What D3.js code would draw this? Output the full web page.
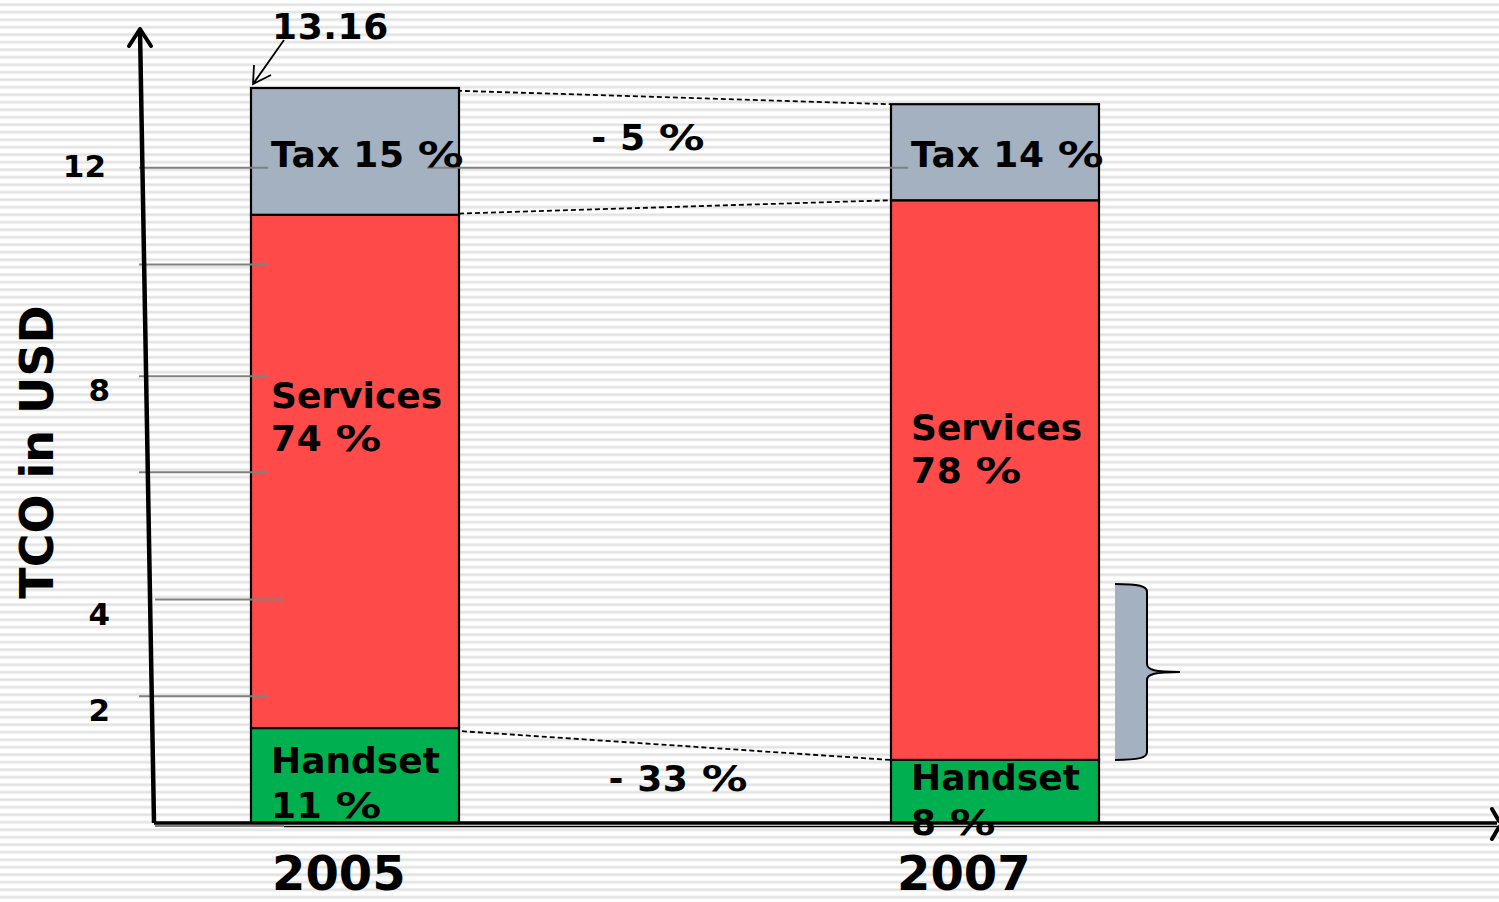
<!DOCTYPE html>
<html>
<head>
<meta charset="utf-8">
<script src="https://cdn.jsdelivr.net/npm/d3@7"></script>
<style>
  html, body { margin: 0; padding: 0; background: #fff; overflow: hidden; }
  svg { display: block; }
</style>
</head>
<body>
<script>
const width = 1499, height = 902
const POLICE = '"DejaVu Sans", Verdana, sans-serif'

// donnees
const years = ['2005', '2007']
const handset = [1.70, 1.13]
const services = [9.19, 10.02]
const tax = [2.27, 1.72]
const handsetPct = ['11 %', '8 %']
const servicesPct = ['74 %', '78 %']
const taxPct = ['15 %', '14 %']
const changes = ['- 5 %', '- 33 %']
const totalLabel = '13.16'
const yTicks = [11.73, 10, 8, 6.28, 4, 2.27]
const yTickText = ['12', '', '8', '', '4', '2']
const braceRange = [1.13, 4.28]

const COULEURS = { Handset: '#00b050', Services: '#ff4a4a', Tax: '#a3b1c0' }

const svg = d3.select('body').append('svg').attr('width', width).attr('height', height)

//Fond avec les lignes horizontales
const defs = svg.append('defs')
const pat = defs.append('pattern').attr('id', 'rayures').attr('patternUnits', 'userSpaceOnUse')
  .attr('width', 10).attr('height', 7.5).attr('y', 3)
pat.append('rect').attr('width', 10).attr('height', 7.5).attr('fill', '#ffffff')
pat.append('rect').attr('y', 0).attr('width', 10).attr('height', 3.5).attr('fill', '#f1f1f1')
pat.append('rect').attr('y', 0.8).attr('width', 10).attr('height', 1.8).attr('fill', '#e2e2e2')
svg.append('rect').attr('width', width).attr('height', height).attr('fill', 'url(#rayures)')

//Echelles
const y = d3.scaleLinear().domain([0, 13.16]).range([823, 88])
const x = d3.scaleBand().domain(years).range([251, 1099]).paddingInner(0.675).paddingOuter(0)
const bw = x.bandwidth()

//Texte gras ; le signe % est plus large dans la police d'origine, on l'etire
function texteGras(g, str, xx, yy, size, anchor) {
  const grp = g.append('g')
  if (!str.includes('%')) {
    grp.append('text').attr('x', xx).attr('y', yy).attr('font-family', POLICE)
      .attr('font-weight', 'bold').attr('font-size', size).attr('text-anchor', anchor || 'start').text(str)
    return grp
  }
  const avant = str.split('%')[0]
  const t1 = grp.append('text').attr('font-family', POLICE).attr('font-weight', 'bold')
    .attr('font-size', size).attr('letter-spacing', 0.6).attr('xml:space', 'preserve').text(avant)
  const w1 = t1.node().getComputedTextLength()
  const t2 = grp.append('text').attr('font-family', POLICE).attr('font-weight', 'bold')
    .attr('font-size', size).text('%')
  const w2 = t2.node().getComputedTextLength() * 1.27
  t2.attr('transform', `translate(${w1},0) scale(1.27,1)`)
  const total = w1 + w2
  const x0 = anchor === 'middle' ? xx - total / 2 : xx
  grp.attr('transform', `translate(${x0},${yy})`)
  return grp
}

//Empilement
const rows = years.map((yr, i) => ({ year: yr, Handset: handset[i], Services: services[i], Tax: tax[i] }))
const stack = d3.stack().keys(['Handset', 'Services', 'Tax'])(rows)

//Lignes pointillees entre les barres
const bounds = stack.map(s => s.map(d => d[1]))
const debut = [x('2005') + bw + 1 - 30, x('2005') + bw - 72, x('2005') + bw - 58]
const gDash = svg.append('g')
;[0, 1, 2].forEach(k => {
  gDash.append('line')
    .attr('x1', debut[k]).attr('y1', y(bounds[k][0]) + 1)
    .attr('x2', x('2007') - 1).attr('y2', y(bounds[k][1]))
    .attr('stroke', 'black').attr('stroke-width', 1.8).attr('stroke-dasharray', '5,3')
})

//Barres
stack.forEach(s => {
  svg.append('g').selectAll('rect').data(s).join('rect')
    .attr('x', d => x(d.data.year)).attr('width', bw)
    .attr('y', d => y(d[1])).attr('height', d => y(d[0]) - y(d[1]))
    .attr('fill', COULEURS[s.key]).attr('stroke', 'black').attr('stroke-width', 2.2)
})

//Petits traits de grille (gris)
const gGrid = svg.append('g').attr('stroke', '#808080').attr('stroke-width', 2)
yTicks.forEach((t, i) => {
  const dx = t === 4 ? 16 : 0
  gGrid.append('line').attr('x1', 139 + dx).attr('x2', 268 + dx).attr('y1', y(t)).attr('y2', y(t))
  if (i === 0) {
    gGrid.append('line').attr('x1', 427).attr('x2', 908).attr('y1', y(t)).attr('y2', y(t))
  }
})
gGrid.append('line').attr('x1', 155).attr('x2', 284).attr('y1', y(0) + 3).attr('y2', y(0) + 3)

//Axes
svg.append('line').attr('x1', 284).attr('x2', 1497).attr('y1', y(0) + 3.5).attr('y2', y(0) + 3.5)
  .attr('stroke', 'black').attr('stroke-width', 1.5)
svg.append('line').attr('x1', 154).attr('x2', 1497).attr('y1', y(0)).attr('y2', y(0))
  .attr('stroke', 'black').attr('stroke-width', 3.5)
svg.append('path').attr('d', 'M1492,809 L1499,821 M1499,827 L1492,839')
  .attr('stroke', 'black').attr('stroke-width', 4).attr('stroke-linecap', 'round').attr('fill', 'none')
svg.append('line').attr('x1', 154).attr('y1', y(0)).attr('x2', 140).attr('y2', 30)
  .attr('stroke', 'black').attr('stroke-width', 4.5)
svg.append('path').attr('d', 'M129,46 L140,29 L151,46')
  .attr('stroke', 'black').attr('stroke-width', 4).attr('stroke-linecap', 'round')
  .attr('stroke-linejoin', 'round').attr('fill', 'none')

//Etiquettes de l'axe y
svg.append('g').selectAll('text').data(yTicks.filter((t, i) => yTickText[i] !== '')).join('text')
  .attr('x', d => d === yTicks[0] ? 106 : 110)
  .attr('y', d => y(d) + (d === yTicks[0] ? 9 : 25))
  .attr('text-anchor', 'end').attr('font-family', POLICE).attr('font-weight', 'bold')
  .attr('font-size', 31).text(d => yTickText[yTicks.indexOf(d)])

svg.append('text').attr('transform', 'translate(53,452) rotate(-90)')
  .attr('text-anchor', 'middle').attr('font-family', POLICE).attr('font-weight', 'bold')
  .attr('font-size', 46).text('TCO in USD')

//Etiquettes des segments
const labelDy = {
  '2005': { Tax: [79], Services: [193, 236], Handset: [45, 90] },
  '2007': { Tax: [63], Services: [240, 283], Handset: [30, 75] }
}
const textes = { Tax: taxPct, Services: servicesPct, Handset: handsetPct }
stack.forEach(s => {
  s.forEach((d, i) => {
    const yr = d.data.year
    const top = y(d[1])
    const lignes = s.key === 'Tax' ? ['Tax ' + textes.Tax[i]] : [s.key, textes[s.key][i]]
    lignes.forEach((l, j) => {
      texteGras(svg, l, x(yr) + 20, top + labelDy[yr][s.key][j], 36)
    })
  })
})

//Annees
const yearDx = { '2005': 21, '2007': 6 }
svg.append('g').selectAll('text').data(years).join('text')
  .attr('x', d => x(d) + yearDx[d]).attr('y', 890)
  .attr('font-family', POLICE).attr('font-weight', 'bold').attr('font-size', 48).text(d => d)

//Variations
texteGras(svg, changes[0], 648, 150, 36, 'middle')
texteGras(svg, changes[1], 678, 791, 36, 'middle')

//Total 2005 avec fleche
const total = d3.sum(stack.map(s => s[0][1] - s[0][0]))
svg.append('text').attr('x', 272).attr('y', 39).attr('font-family', POLICE).attr('font-weight', 'bold')
  .attr('font-size', 36).attr('letter-spacing', 0.6).text(totalLabel)
const tip = [x('2005') + 2, y(total) - 4]
svg.append('path')
  .attr('d', `M284,40 L${tip[0]},${tip[1]} M${tip[0] + 1},${tip[1] - 19} L${tip[0]},${tip[1]} L${tip[0] + 18},${tip[1] - 9}`)
  .attr('stroke', 'black').attr('stroke-width', 1.8).attr('fill', 'none')

//Accolade a droite de 2007
const b0 = y(braceRange[0]), b1 = y(braceRange[1]), bm = (b0 + b1) / 2
const bx = x('2007') + bw + 16
const accolade = `M${bx},${b1} C${bx + 24},${b1} ${bx + 32},${b1 + 2} ${bx + 32},${b1 + 8}
  L${bx + 32},${bm - 8} C${bx + 32},${bm - 2} ${bx + 40},${bm} ${bx + 65},${bm}
  C${bx + 40},${bm} ${bx + 32},${bm + 2} ${bx + 32},${bm + 8}
  L${bx + 32},${b0 - 8} C${bx + 32},${b0 - 2} ${bx + 24},${b0} ${bx},${b0}`
svg.append('path').attr('d', accolade + ' Z').attr('fill', COULEURS.Tax).attr('stroke', 'none')
svg.append('path').attr('d', accolade).attr('fill', 'none').attr('stroke', 'black').attr('stroke-width', 2)
</script>
</body>
</html>
